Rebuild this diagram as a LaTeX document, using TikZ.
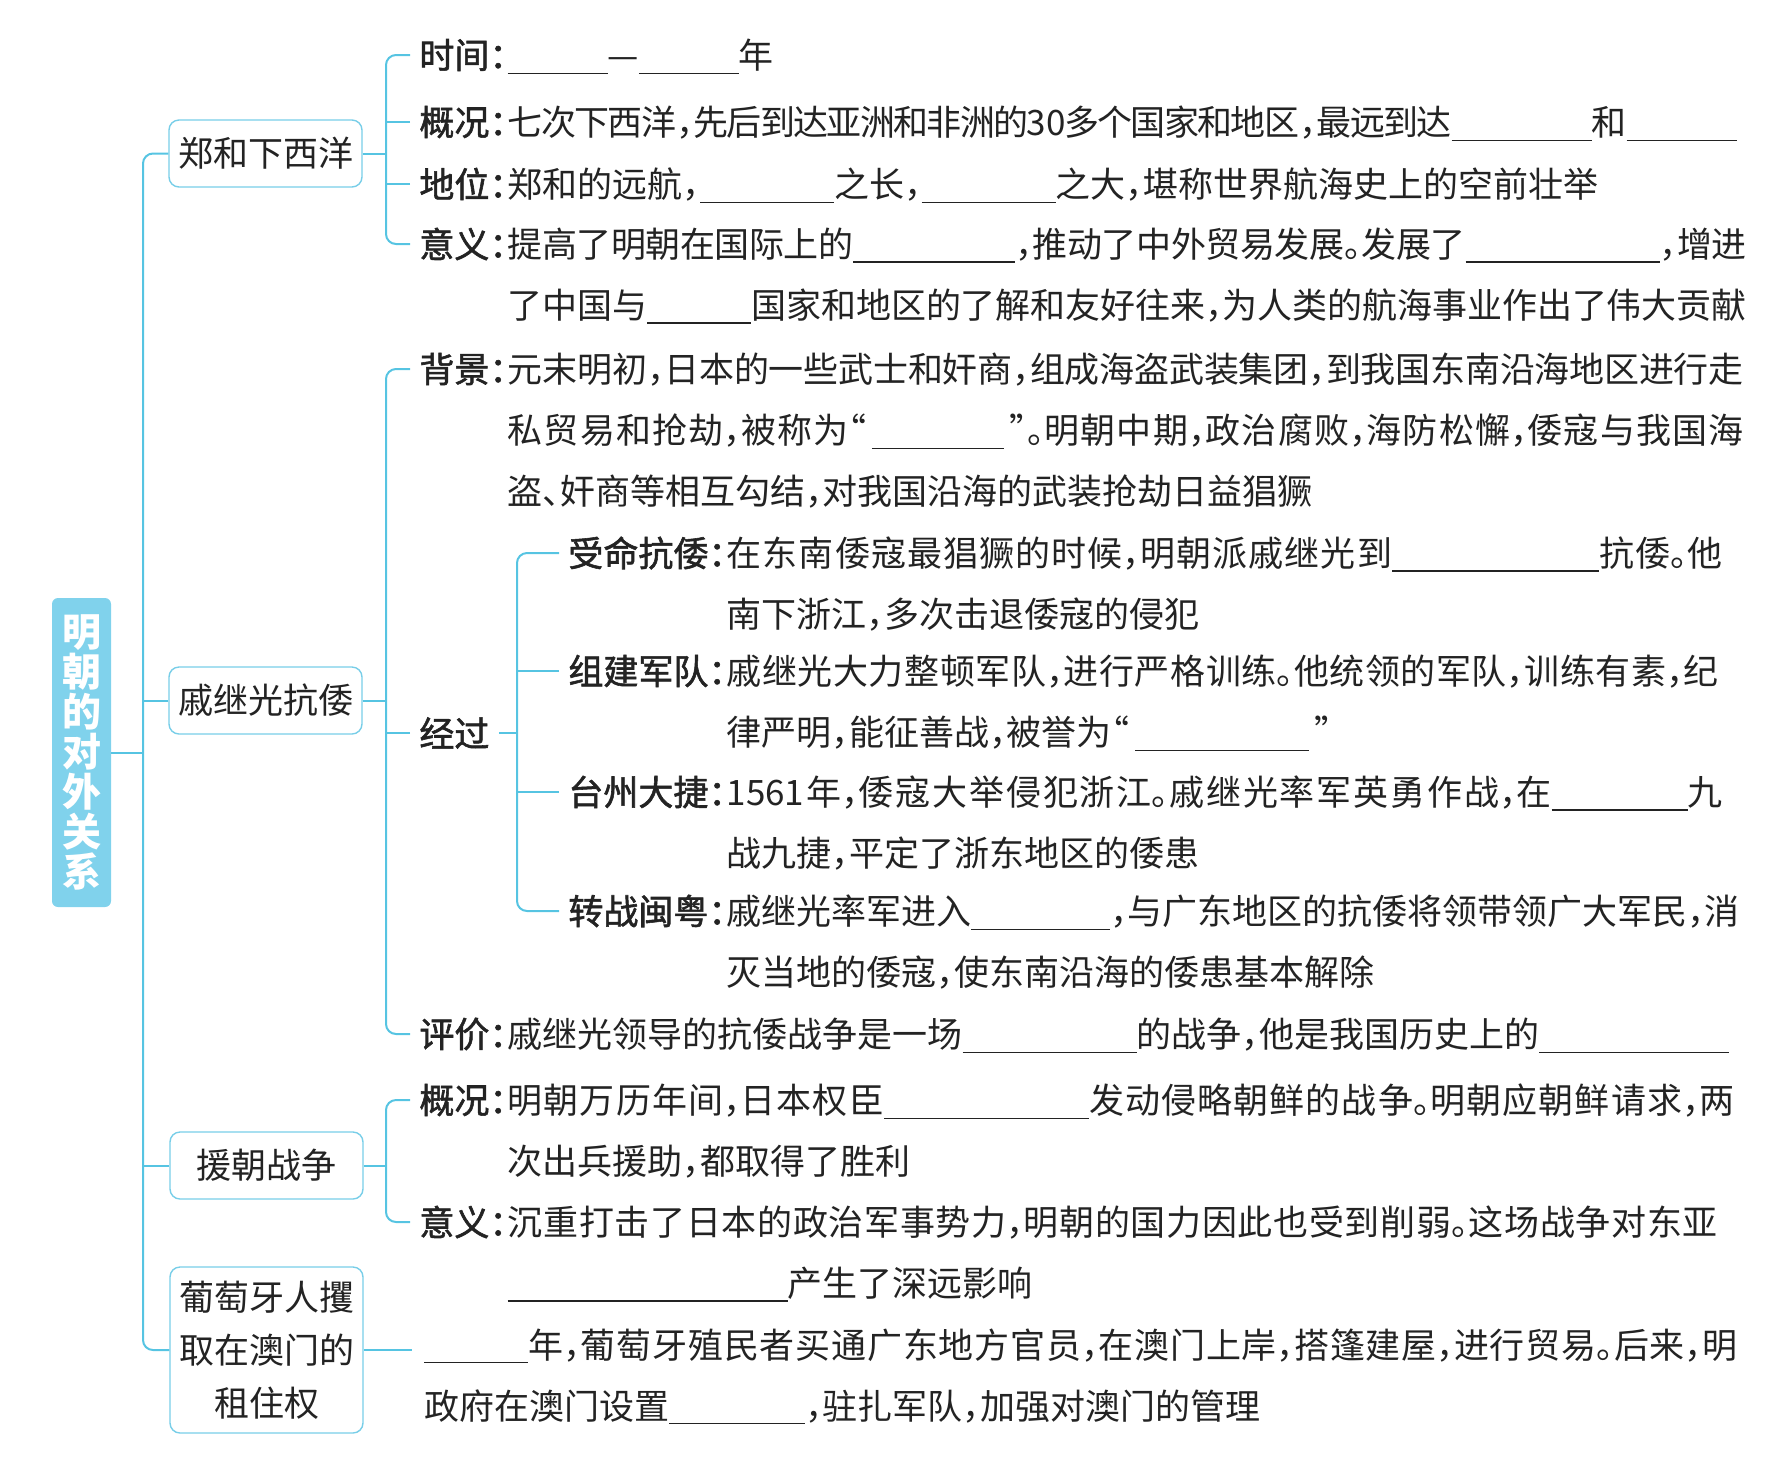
\documentclass[tikz,border=0pt]{standalone}
\usepackage{fontspec}
\setmainfont{Noto Sans CJK SC}
\newfontfamily\lblfont{Noto Sans CJK SC}[FakeBold=1.6]
\XeTeXlinebreaklocale "zh"
\XeTeXlinebreakskip=0pt plus 4pt minus 1pt
\XeTeXlinebreakpenalty=10000
\tolerance=10000
\hbadness=10000
\definecolor{linecyan}{RGB}{86,196,226}
\definecolor{rootcyan}{RGB}{128,210,236}
\definecolor{boxcyan}{RGB}{120,206,232}
\definecolor{ink}{RGB}{35,35,35}
\newcommand\txtsize{\fontsize{17.5}{30.5}\selectfont}
\newcommand\hw[1]{\makebox[.5em][l]{#1}}
\newcommand\hwr[1]{\makebox[.5em][r]{#1}}
\newcommand\blk[1]{\rule[-.15em]{#1}{.6pt}}

\begin{document}
\begin{tikzpicture}[x=0.5pt, y=-0.5pt,
    every node/.style={font=\txtsize, text=ink},
    link/.style={draw=linecyan, line width=1pt},
    root/.style={fill=rootcyan, rounded corners=3pt, minimum width=29.5pt, minimum height=154.5pt, inner sep=0pt, align=center, text=white, font=\fontsize{19.5}{20}\selectfont\bfseries},
    topic/.style={draw=boxcyan, line width=.7pt, rounded corners=5pt, fill=white, minimum width=96.5pt, minimum height=33.5pt, align=center},
    lbl/.style={font=\txtsize\lblfont, inner xsep=4.5pt, inner ysep=0pt, anchor=west},
    body/.style={text width=#1, align=justify, inner sep=0pt, anchor=north west}]
    \useasboundingbox (0,0) rectangle (1782,1469);

    \node[root] (root) at (81.5,752.5) {明\\朝\\的\\对\\外\\关\\系};
    \node[topic] (voyage) at (265.5,153.5) {郑和下西洋};
    \node[topic] (pirate) at (265.5,700.5) {戚继光抗倭};
    \node[topic] (korea) at (266.5,1165.5) {援朝战争};
    \node[topic, minimum height=83pt, font=\fontsize{17.5}{26.5}\selectfont] (macau) at (266.5,1350) {葡萄牙人攫\\取在澳门的\\租住权};

    \coordinate (trunk) at (143,752.5);
    \draw[link] (root) -- (trunk);
    \draw[link, rounded corners=5pt] (voyage.west) -| (trunk) |- (macau.west);
    \draw[link] (pirate.west) -- (pirate.west -| trunk);
    \draw[link] (korea.west) -- (korea.west -| trunk);

    \coordinate (vj) at (386,153.5);
    \node[lbl] (v-time) at (410,55) {时间\hw{：}};
    \node[body=600pt] (v-time-t) at ([xshift=-4.5pt]v-time.north east) {\blk{50pt}—\blk{50pt}年};
    \node[lbl] (v-over) at (410,122) {概况\hw{：}};
    \node[body=614.5pt] (v-over-t) at ([xshift=-4.5pt]v-over.north east) {\parfillskip=0pt 七次下西洋\hw{，}先后到达亚洲和非洲的30多个国家和地区\hw{，}最远到达\blk{70pt}和\blk{55pt}};
    \node[lbl] (v-rank) at (410,184) {地位\hw{：}};
    \node[body=600pt] (v-rank-t) at ([xshift=-4.5pt]v-rank.north east) {郑和的远航\hw{，}\blk{67pt}之长\hw{，}\blk{67pt}之大\hw{，}堪称世界航海史上的空前壮举};
    \node[lbl] (v-mean) at (410,244) {意义\hw{：}};
    \node[body=619.5pt] (v-mean-t) at ([xshift=-4.5pt]v-mean.north east) {提高了明朝在国际上的\blk{81pt}\hw{，}推动了中外贸易发展\hw{。}发展了\blk{97pt}\hw{，}增进\linebreak 了中国与\blk{52pt}国家和地区的了解和友好往来\hw{，}为人类的航海事业作出了伟大贡献};
    \draw[link] (voyage) -- (vj);
    \draw[link, rounded corners=5pt] (v-time.west) -| (vj) |- (v-mean.west);
    \draw[link] (v-over.west) -- (v-over.west -| vj);
    \draw[link] (v-rank.west) -- (v-rank.west -| vj);

    \coordinate (pj) at (386,700.5);
    \node[lbl] (p-back) at (410,369) {背景\hw{：}};
    \node[body=618pt] (p-back-t) at ([xshift=-4.5pt]p-back.north east) {元末明初\hw{，}日本的一些武士和奸商\hw{，}组成海盗武装集团\hw{，}到我国东南沿海地区进行走\linebreak 私贸易和抢劫\hw{，}被称为\hwr{“}\,\blk{66pt}\,\hw{”}\hw{。}明朝中期\hw{，}政治腐败\hw{，}海防松懈\hw{，}倭寇与我国海\linebreak 盗\hw{、}奸商等相互勾结\hw{，}对我国沿海的武装抢劫日益猖獗};
    \node[lbl] (p-course) at (410,733) {经过};
    \node[lbl] (p-eval) at (410,1034) {评价\hw{：}};
    \node[body=620pt] (p-eval-t) at ([xshift=-4.5pt]p-eval.north east) {戚继光领导的抗倭战争是一场\blk{87pt}的战争\hw{，}他是我国历史上的\blk{95pt}};
    \draw[link] (pirate) -- (pj);
    \draw[link, rounded corners=5pt] (p-back.west) -| (pj) |- (p-eval.west);
    \draw[link] (p-course.west) -- (p-course.west -| pj);

    \coordinate (cj) at (517,733);
    \node[lbl] (c-order) at (559,553) {受命抗倭\hw{：}};
    \node[body=498pt] (c-order-t) at ([xshift=-4.5pt]c-order.north east) {在东南倭寇最猖獗的时候\hw{，}明朝派戚继光到\blk{103.5pt}抗倭\hw{。}他\linebreak 南下浙江\hw{，}多次击退倭寇的侵犯};
    \node[lbl] (c-army) at (559,671) {组建军队\hw{：}};
    \node[body=496pt] (c-army-t) at ([xshift=-4.5pt]c-army.north east) {戚继光大力整顿军队\hw{，}进行严格训练\hw{。}他统领的军队\hw{，}训练有素\hw{，}纪\linebreak 律严明\hw{，}能征善战\hw{，}被誉为\hwr{“}\,\blk{87pt}\,\hw{”}};
    \node[lbl] (c-taizhou) at (559,792) {台州大捷\hw{：}};
    \node[body=498pt] (c-taizhou-t) at ([xshift=-4.5pt]c-taizhou.north east) {1561年\hw{，}倭寇大举侵犯浙江\hw{。}戚继光率军英勇作战\hw{，}在\blk{68pt}九\linebreak 战九捷\hw{，}平定了浙东地区的倭患};
    \node[lbl] (c-south) at (559,911) {转战闽粤\hw{：}};
    \node[body=506.5pt] (c-south-t) at ([xshift=-4.5pt]c-south.north east) {戚继光率军进入\blk{69.5pt}\hw{，}与广东地区的抗倭将领带领广大军民\hw{，}消\linebreak 灭当地的倭寇\hw{，}使东南沿海的倭患基本解除};
    \draw[link] (p-course) -- (cj);
    \draw[link, rounded corners=5pt] (c-order.west) -| (cj) |- (c-south.west);
    \draw[link] (c-army.west) -- (c-army.west -| cj);
    \draw[link] (c-taizhou.west) -- (c-taizhou.west -| cj);

    \coordinate (kj) at (386,1165.5);
    \node[lbl] (k-over) at (410,1100) {概况\hw{：}};
    \node[body=613.5pt] (k-over-t) at ([xshift=-4.5pt]k-over.north east) {明朝万历年间\hw{，}日本权臣\blk{102.5pt}发动侵略朝鲜的战争\hw{。}明朝应朝鲜请求\hw{，}两\linebreak 次出兵援助\hw{，}都取得了胜利};
    \node[lbl] (k-mean) at (410,1222) {意义\hw{：}};
    \node[body=605pt] (k-mean-t) at ([xshift=-4.5pt]k-mean.north east) {沉重打击了日本的政治军事势力\hw{，}明朝的国力因此也受到削弱\hw{。}这场战争对东亚\linebreak \blk{140pt}产生了深远影响};
    \draw[link] (korea) -- (kj);
    \draw[link, rounded corners=5pt] (k-over.west) -| (kj) |- (k-mean.west);

    \node[body=656.5pt] (m-text) at (424,1328) {\blk{52pt}年\hw{，}葡萄牙殖民者买通广东地方官员\hw{，}在澳门上岸\hw{，}搭篷建屋\hw{，}进行贸易\hw{。}后来\hw{，}明\linebreak 政府在澳门设置\blk{68pt}\hw{，}驻扎军队\hw{，}加强对澳门的管理};
    \draw[link, shorten >=6pt] (macau.east) -- (macau.east -| m-text.west);
\end{tikzpicture}
\end{document}
